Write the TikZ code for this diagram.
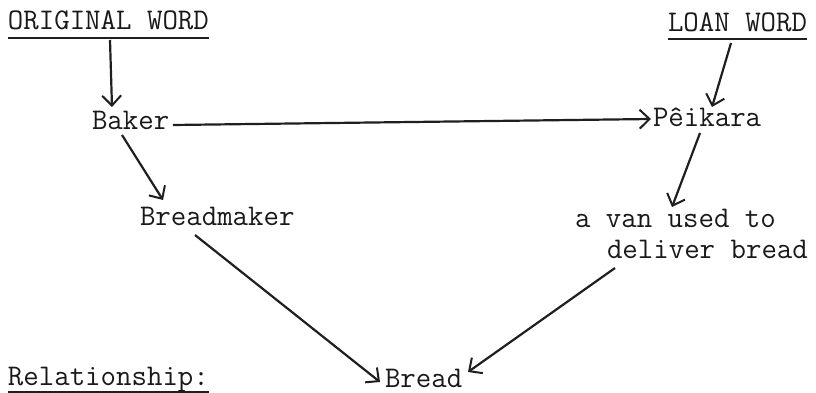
\documentclass[tikz,border=0pt]{standalone}
\usetikzlibrary{arrows.meta}
\begin{document}
\begin{tikzpicture}[x=1pt,y=-1pt,
  lbl/.style={anchor=base west,inner sep=0pt,outer sep=0pt,text=black!90,
    font=\fontsize{30}{34}\selectfont\ttfamily},
  conn/.style={draw=black!88,line width=2.2pt,
    -{Straight Barb[length=10pt,width=19pt,line width=2pt]}},
  uline/.style={draw=black!88,line width=2pt}]
\useasboundingbox (0,0) rectangle (816,393);
\node[lbl] (orig) at (8,30) {ORIGINAL WORD};
\node[lbl] (loan) at (668,32) {LOAN WORD};
\node[lbl] (baker) at (92,130) {Baker};
\node[lbl] (peikara) at (653,127) {P\^eikara};
\node[lbl] (breadmaker) at (140,225) {Breadmaker};
\node[lbl] (van) at (575,227) {a van used to};
\node[lbl] (deliver) at (607,258) {deliver bread};
\node[lbl] (bread) at (385,387) {Bread};
\node[lbl] (rel) at (8,385) {Relationship:};
% underlines
\draw[uline] ([yshift=-8pt]orig.base west) -- ([yshift=-8pt]orig.base east);
\draw[uline] ([yshift=-7pt]loan.base west) -- ([yshift=-7pt]loan.base east);
\draw[uline] ([yshift=-7pt]rel.base west) -- ([yshift=-7pt]rel.base east);
% connectors
\draw[conn] ([shift={(102,10)}]orig.base west) -- ([shift={(20,-23)}]baker.base west);
\draw[conn] ([shift={(63,11)}]loan.base west) -- ([shift={(59,-20)}]peikara.base west);
\draw[conn] ([shift={(81,-5)}]baker.base west) -- ([shift={(-2,-8)}]peikara.base west);
\draw[conn] ([shift={(30,5)}]baker.base west) -- ([shift={(23,-25)}]breadmaker.base west);
\draw[conn] ([shift={(47,6)}]peikara.base west) -- ([shift={(97,-20)}]van.base west);
\draw[conn] ([shift={(55,10)}]breadmaker.base west) -- ([shift={(-5,-5)}]bread.base west);
\draw[conn] ([shift={(8,10)}]deliver.base west) -- ([shift={(83,-15)}]bread.base west);
\end{tikzpicture}
\end{document}
